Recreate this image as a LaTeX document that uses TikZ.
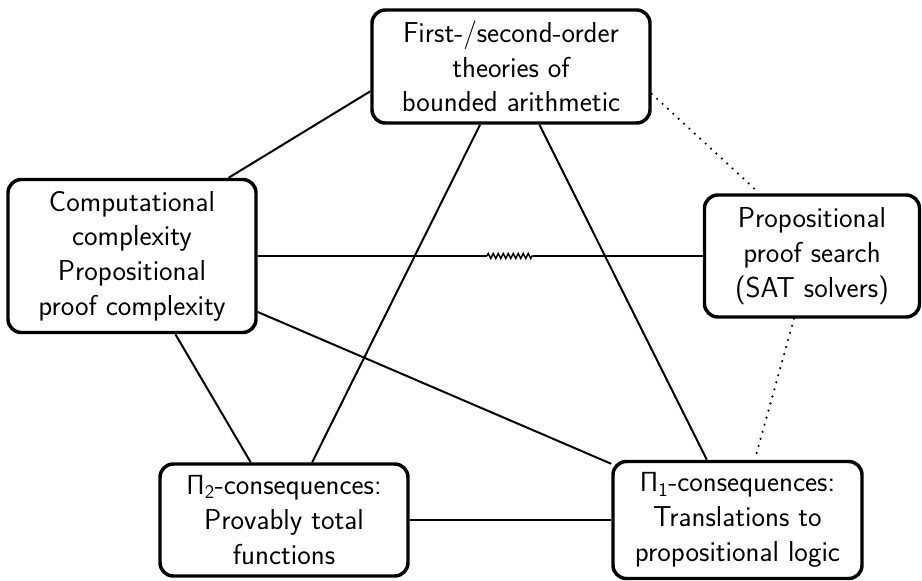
\documentclass[tikz,border=0pt]{standalone}
\usetikzlibrary{decorations.pathmorphing}
\begin{document}
\begin{tikzpicture}[x=0.75pt,y=-0.75pt,
  box/.style={draw, line width=2.6pt, rounded corners=10pt, align=center, inner sep=0pt,
    font=\sffamily\fontsize{21.6}{26}\selectfont},
  link/.style={line width=1.5pt},
  dotlink/.style={line width=1.8pt, dash pattern=on 0pt off 5.5pt, line cap=round}]
\useasboundingbox (0,0) rectangle (922,581);
\node[box, minimum width=208.5pt, minimum height=84.75pt] (top) at (511,66.5)
  {First-/second-order\\theories of\\bounded arithmetic};
\node[box, minimum width=186pt, minimum height=114.75pt] (left) at (132,256)
  {Computational\\complexity\\Propositional\\proof complexity};
\node[box, minimum width=161.25pt, minimum height=91.5pt] (right) at (812,256)
  {Propositional\\proof search\\(SAT solvers)};
\node[box, minimum width=186pt, minimum height=84pt] (bl) at (284,520)
  {$\mathsf{\Pi_2}$-consequences:\\Provably total\\functions};
\node[box, minimum width=186.75pt, minimum height=87.75pt] (br) at (737.5,520)
  {$\mathsf{\Pi_1}$-consequences:\\Translations to\\propositional logic};
\coordinate (z1) at (487,256);
\coordinate (z2) at (533,256);
\draw[link] (top.190.6) -- (left.39.9);
\draw[link] (top.242.9) -- (bl.64.2);
\draw[link] (top.296.4) -- (br.117.1);
\draw[link] (left.east) -- (z1);
\draw[line width=1.1pt, decorate, decoration={zigzag, segment length=3.75pt, amplitude=1.9pt}] (z1) -- (z2);
\draw[link] (z2) -- (right.west);
\draw[link] (left.299.8) -- (bl.120.4);
\draw[link] (left.336.1) -- (br.156.5);
\draw[link] (bl) -- (br);
\draw[dotlink] (top.349.7) -- (right.130);
\draw[dotlink] (right.254.7) -- (br.74);
\end{tikzpicture}
\end{document}
